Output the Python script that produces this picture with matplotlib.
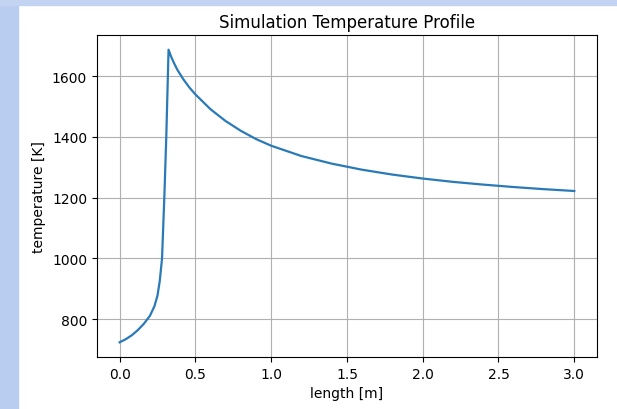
import numpy as np
import matplotlib.pyplot as plt
from matplotlib.patches import Rectangle

# temperature profile
length = [0.0, 0.04, 0.08, 0.12, 0.16, 0.2, 0.23, 0.25, 0.265, 0.28, 0.295, 0.308,
          0.323, 0.34, 0.36, 0.38, 0.42, 0.46, 0.5, 0.6, 0.7, 0.8, 0.9, 1.0, 1.2,
          1.4, 1.6, 1.8, 2.0, 2.2, 2.4, 2.6, 2.8, 3.0]
temperature = [724, 734, 747, 764, 785, 811, 843, 878, 926, 1000, 1200, 1400,
               1687, 1664, 1642, 1622, 1590, 1563, 1540, 1491, 1452, 1420, 1393, 1371,
               1337, 1312, 1292, 1276, 1263, 1252, 1243, 1235, 1228, 1222]

fig = plt.figure(figsize=(6.17, 4.10), dpi=100)

# slide background peeking in at the left and top of the screenshot
fig.patches.append(Rectangle((0, 0), 18 / 617, 1, transform=fig.transFigure,
                             color='#b9cdf0', zorder=-1))
fig.patches.append(Rectangle((0, 1 - 6 / 410), 1, 6 / 410, transform=fig.transFigure,
                             color='#c3d4f2', zorder=-1))

ax = fig.add_axes([0.157, 0.127, 0.8106, 0.785])
ax.plot(length, temperature, color='#2a7ab8', lw=1.6)
ax.grid(True)
ax.set_title("Simulation Temperature Profile")
ax.set_xlabel("length [m]")
ax.set_ylabel("temperature [K]")

fig.savefig("out.png", dpi=100)
